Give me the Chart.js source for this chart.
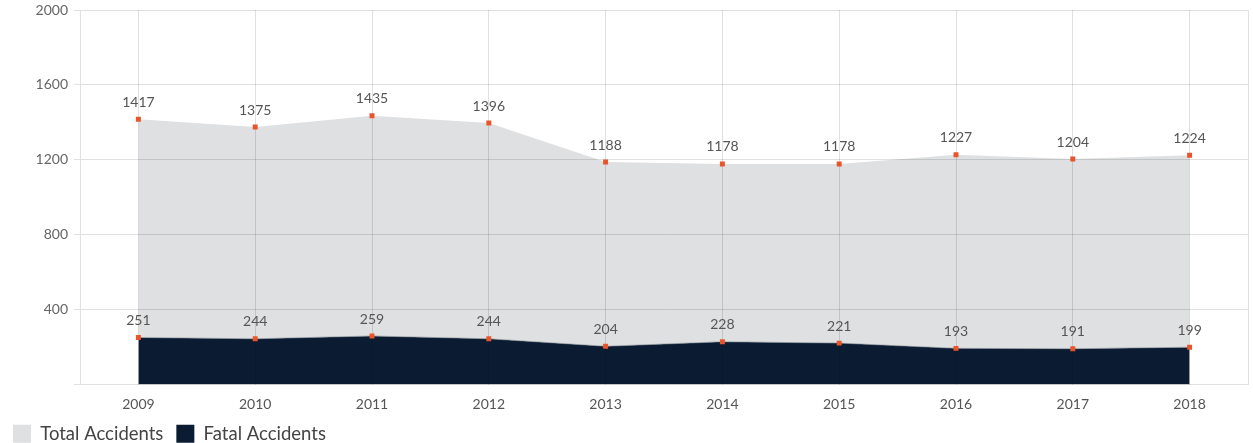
<!DOCTYPE html>
<html>
<head>
<meta charset="utf-8">
<script src="https://cdn.jsdelivr.net/npm/chart.js@4"></script>
<style>
  html, body { margin: 0; padding: 0; background: #fff; }
  #wrap { width: 1253px; height: 443px; }
</style>
</head>
<body>
<div id="wrap"><canvas id="chart" width="1253" height="443"></canvas></div>
<script>
// dados
const anos = ['2009', '2010', '2011', '2012', '2013', '2014', '2015', '2016', '2017', '2018'];
const totalAcidentes = [1417, 1375, 1435, 1396, 1188, 1178, 1178, 1227, 1204, 1224];
const acidentesFatais = [251, 244, 259, 244, 204, 228, 221, 193, 191, 199];
const ticksY = [0, 400, 800, 1200, 1600, 2000];

const fonte = 'Lato, "Open Sans", sans-serif';
const corGrade = 'rgba(0,0,0,0.12)';

// rótulos de valor acima de cada ponto
const rotulos = {
    id: 'rotulos',
    afterDatasetsDraw(chart) {
        const ctx = chart.ctx;
        ctx.save();
        ctx.font = '14px ' + fonte;
        ctx.fillStyle = '#555';
        ctx.textAlign = 'center';
        ctx.textBaseline = 'middle';
        chart.data.datasets.forEach((ds, i) => {
            chart.getDatasetMeta(i).data.forEach((pt, j) => {
                ctx.fillText(ds.data[j], pt.x, pt.y - 17);
            });
        });
        ctx.restore();
    }
};

new Chart(document.getElementById('chart'), {
    type: 'line',
    data: {
        labels: anos,
        datasets: [
            {
                label: 'Total Accidents',
                data: totalAcidentes,
                backgroundColor: '#dfe0e2',
                borderColor: 'rgba(0,0,0,0)',
                borderWidth: 0,
                fill: '+1',
                tension: 0,
                pointStyle: 'rect',
                pointRadius: 3.5,
                pointBackgroundColor: '#e8552b',
                pointBorderWidth: 0
            },
            {
                label: 'Fatal Accidents',
                data: acidentesFatais,
                backgroundColor: '#0b1c32',
                borderColor: 'rgba(120,130,140,0.6)',
                borderWidth: 1,
                fill: 'origin',
                tension: 0,
                pointStyle: 'rect',
                pointRadius: 3.5,
                pointBackgroundColor: '#e8552b',
                pointBorderWidth: 0
            }
        ]
    },
    options: {
        responsive: false,
        animation: false,
        layout: { padding: { top: 10, right: 0, left: 0, bottom: -10 } },
        plugins: {
            filler: { drawTime: 'beforeDraw' },
            tooltip: { enabled: false },
            legend: {
                position: 'bottom',
                align: 'start',
                labels: {
                    boxWidth: 18,
                    boxHeight: 18,
                    padding: 13,
                    color: '#444',
                    font: { family: fonte, size: 18.5 },
                    generateLabels(chart) {
                        return chart.data.datasets.map((ds, i) => ({
                            text: ds.label,
                            fillStyle: ds.backgroundColor,
                            strokeStyle: 'rgba(0,0,0,0)',
                            lineWidth: 0,
                            fontColor: '#444',
                            datasetIndex: i
                        }));
                    }
                }
            }
        },
        scales: {
            x: {
                offset: true,
                afterFit(scale) { scale.height = 27; },
                grid: { offset: false, color: corGrade, drawTicks: false },
                border: { display: false },
                ticks: {
                    padding: 13,
                    color: '#555',
                    font: { family: fonte, size: 14, lineHeight: 1 }
                }
            },
            y: {
                min: 0,
                max: 2000,
                afterFit(scale) {
                    scale.width = 80;
                    scale.paddingTop = 0;
                    scale.paddingBottom = 0;
                },
                afterBuildTicks(scale) { scale.ticks = ticksY.map(v => ({ value: v })); },
                grid: { color: corGrade, tickLength: 6 },
                border: { display: true, color: corGrade },
                ticks: {
                    padding: 6,
                    color: '#666',
                    font: { family: fonte, size: 14 },
                    callback: v => (v === 0 ? '' : v)
                }
            },
            yDireita: {
                position: 'right',
                min: 0,
                max: 2000,
                afterFit(scale) { scale.width = 5; },
                grid: { display: false },
                border: { display: true, color: corGrade },
                ticks: { display: false }
            }
        }
    },
    plugins: [rotulos]
});
</script>
</body>
</html>
